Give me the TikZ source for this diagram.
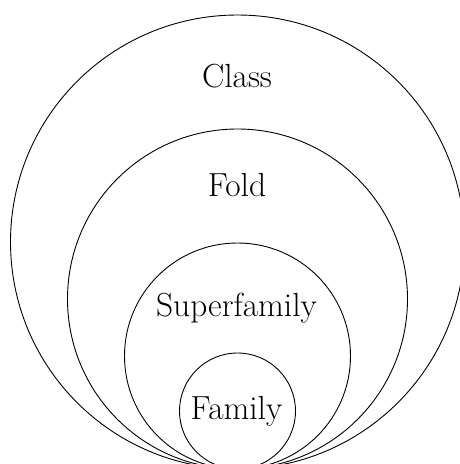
\documentclass[tikz,border=0pt]{standalone}
\begin{document}
\begin{tikzpicture}[x=1pt,y=-1pt,
  ring/.style={draw=black,line width=0.9pt},
  rank/.style={anchor=base,inner sep=0pt,font=\fontsize{33.4pt}{40pt}\selectfont}]
\useasboundingbox (0,0) rectangle (459,464);
% nested ranks, all touching at the common bottom point
\coordinate (touch) at (237.5,469);
\draw[ring] (237.5,242) circle[radius=227];
\draw[ring] (237.5,299) circle[radius=170];
\draw[ring] (237.5,356) circle[radius=113];
\draw[ring] (237.5,411) circle[radius=58];
% rank names
\node[rank] (class) at (237,87.5) {Class};
\node[rank] (fold) at (237,196.5) {Fold};
\node[rank] (superfamily) at (236.5,316.7) {Superfamily};
\node[rank] (family) at (236.5,419.3) {Family};
\end{tikzpicture}
\end{document}
